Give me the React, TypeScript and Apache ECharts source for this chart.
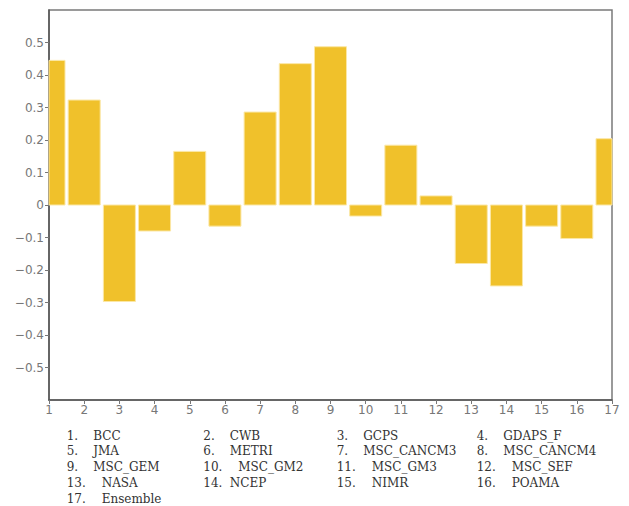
import { useEffect, useRef } from "react";
import * as echarts from "echarts";

// Model index along the x axis and the score of each model
const modelNumbers = [1, 2, 3, 4, 5, 6, 7, 8, 9, 10, 11, 12, 13, 14, 15, 16, 17];
const skillValues = [
  0.445, 0.323, -0.297, -0.08, 0.165, -0.065, 0.286, 0.435, 0.487, -0.034, 0.184,
  0.028, -0.18, -0.249, -0.065, -0.103, 0.204,
];
// Key entries: number, spaces, model name
const modelLabels = [
  "1. BCC",
  "2. CWB",
  "3. GCPS",
  "4. GDAPS_F",
  "5. JMA",
  "6. METRI",
  "7. MSC_CANCM3",
  "8. MSC_CANCM4",
  "9. MSC_GEM",
  "10.  MSC_GM2",
  "11.  MSC_GM3",
  "12.  MSC_SEF",
  "13.  NASA",
  "14. NCEP",
  "15.  NIMR",
  "16.  POAMA",
  "17.  Ensemble",
];
const yTickValues = [-0.5, -0.4, -0.3, -0.2, -0.1, 0, 0.1, 0.2, 0.3, 0.4, 0.5];

const BAR_COLOR = "#F0C12B";
const BAR_EDGE = "#FBE7A6";
const BAR_SPAN = 0.91; // bar width in x-axis units
const KEY_FONT = '12px "DejaVu Serif"';
const TICK_FONT = "DejaVu Sans";

function formatTick(v: number): string {
  if (Math.abs(v) < 1e-9) return "0";
  const s = Math.abs(v).toFixed(1);
  return v < 0 ? "\u2212" + s : s;
}

function buildKey(): any[] {
  const colX = [66.7, 203.3, 336.7, 476.7];
  const rowTop = 435.5;
  const rowStep = 15.9;
  const nameGap = 26.5;
  const extraSpace = 8.5;
  const items: any[] = [];
  modelLabels.forEach((label, i) => {
    const m = label.match(/^(\S+)(\s+)(.*)$/);
    if (!m) return;
    const col = i % 4;
    const row = Math.floor(i / 4);
    const x = colX[col];
    const y = rowTop + row * rowStep;
    items.push({
      type: "text",
      x,
      y,
      style: { text: m[1], font: KEY_FONT, fill: "#333", verticalAlign: "middle" },
    });
    items.push({
      type: "text",
      x: x + nameGap + (m[2].length - 1) * extraSpace,
      y,
      style: { text: m[3], font: KEY_FONT, fill: "#333", verticalAlign: "middle" },
    });
  });
  return items;
}

// Bars centred on each model index, clipped to the plot frame
function renderBar(params: any, api: any) {
  const x = api.value(0);
  const v = api.value(1);
  const top = api.coord([x, v]);
  const base = api.coord([x, 0]);
  const half = api.size([BAR_SPAN, 0])[0] / 2;
  const shape = echarts.graphic.clipRectByRect(
    {
      x: top[0] - half,
      y: Math.min(top[1], base[1]),
      width: half * 2,
      height: Math.abs(base[1] - top[1]),
    },
    {
      x: params.coordSys.x,
      y: params.coordSys.y,
      width: params.coordSys.width,
      height: params.coordSys.height,
    }
  );
  if (!shape) return null;
  return {
    type: "rect",
    shape,
    style: { fill: BAR_COLOR, stroke: BAR_EDGE, lineWidth: 1 },
  };
}

export default function App() {
  const ref = useRef<HTMLDivElement>(null);

  useEffect(() => {
    if (!ref.current) return;
    const chart = echarts.init(ref.current, undefined, { renderer: "svg" });
    chart.setOption({
      animation: false,
      backgroundColor: "#ffffff",
      grid: {
        left: 49,
        top: 10,
        width: 563,
        height: 390,
        show: true,
        borderColor: "#7a7a7a",
        borderWidth: 1.5,
        backgroundColor: "transparent",
      },
      xAxis: {
        type: "value",
        min: 1,
        max: 17,
        interval: 1,
        axisLine: { show: true, onZero: false, lineStyle: { color: "#555", width: 1.5 } },
        axisTick: { show: true, length: 4, lineStyle: { color: "#777" } },
        axisLabel: {
          color: "#777",
          fontSize: 12,
          fontFamily: TICK_FONT,
          margin: 4,
        },
        splitLine: { show: false },
      },
      yAxis: {
        type: "value",
        min: -0.6,
        max: 0.6,
        interval: 0.1,
        axisLine: { show: true, onZero: false, lineStyle: { color: "#555", width: 1.5 } },
        axisTick: {
          show: true,
          length: 4,
          customValues: yTickValues,
          lineStyle: { color: "#777" },
        },
        axisLabel: {
          color: "#777",
          fontSize: 12,
          fontFamily: TICK_FONT,
          margin: 5,
          customValues: yTickValues,
          formatter: (v: number) => formatTick(v),
        },
        splitLine: { show: false },
      },
      series: [
        {
          type: "custom",
          renderItem: renderBar,
          encode: { x: 0, y: 1 },
          data: modelNumbers.map((n, i) => [n, skillValues[i]]),
          z: 1,
        },
      ],
      graphic: buildKey(),
    });
    return () => chart.dispose();
  }, []);

  return (
    <div
      ref={ref}
      style={{ position: "fixed", left: 0, top: 0, width: 629, height: 506, background: "#fff" }}
    />
  );
}
